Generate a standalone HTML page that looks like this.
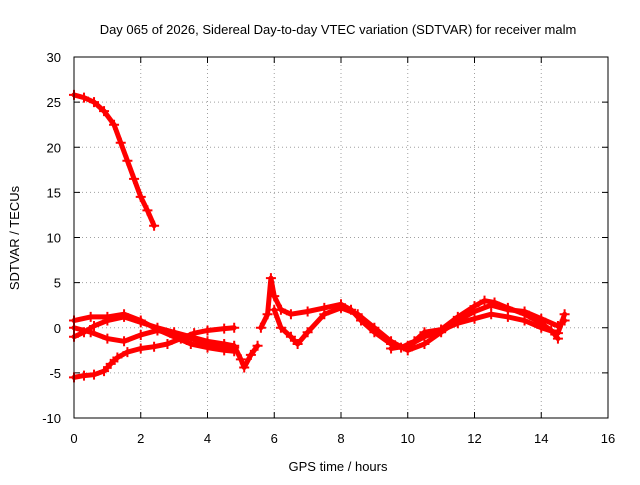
<!DOCTYPE html>
<html><head><meta charset="utf-8"><style>
body{margin:0;background:#fff}
svg text{font-family:"Liberation Sans",sans-serif;font-size:13px;fill:#000}
</style></head><body>
<svg id="chart" width="640" height="480" xmlns="http://www.w3.org/2000/svg">
<rect width="640" height="480" fill="#fff"/>
<text x="338" y="34" text-anchor="middle">Day 065 of 2026, Sidereal Day-to-day VTEC variation (SDTVAR) for receiver malm</text>
<text x="338" y="471" text-anchor="middle">GPS time / hours</text>
<text transform="translate(19,238) rotate(-90)" text-anchor="middle">SDTVAR / TECUs</text>
<g id="grid"></g><g id="ticks"></g><g id="series"></g>
<rect x="74" y="57" width="534" height="361" fill="none" stroke="#000" stroke-width="1"/>
</svg>
<script>
const xTicks=[0,2,4,6,8,10,12,14,16];
const yTicks=[-10,-5,0,5,10,15,20,25,30];
const track1=[[0,25.8],[0.3,25.5],[0.6,25],[0.9,24],[1.2,22.5],[1.4,20.5],[1.6,18.5],[1.8,16.5],[2.0,14.5],[2.2,13],[2.4,11.3]];
const track2=[[0,-5.5],[0.3,-5.3],[0.6,-5.2],[0.9,-4.8],[1.1,-4],[1.3,-3.3],[1.6,-2.7],[2,-2.3],[2.4,-2.1],[2.8,-1.8],[3.2,-1.2],[3.6,-0.6],[4,-0.3],[4.5,-0.1],[4.8,0]];
const track3=[[0,-1],[0.3,-0.5],[0.6,0.2],[1,0.8],[1.5,1.2],[2,0.6],[2.5,0],[3,-0.5],[3.5,-1],[4,-1.5],[4.5,-1.8],[4.8,-2],[5,-3.5],[5.1,-4.4],[5.3,-3],[5.5,-2]];
const track4=[[0,0.8],[0.5,1.2],[1,1.2],[1.5,1.5],[2,0.8],[2.5,-0.2],[3,-1],[3.5,-1.8],[4,-2.2],[4.5,-2.5],[4.8,-2.6]];
const track5=[[0,0],[0.5,-0.5],[1,-1.2],[1.5,-1.5],[2,-0.8],[2.5,-0.3],[3,-0.7],[3.5,-1.2],[4,-1.8],[4.5,-2],[4.8,-2.2]];
const track6=[[5.6,0],[5.8,1.5],[5.9,5.5],[6,3.5],[6.2,2],[6.5,1.5],[7,1.8],[7.5,2.2],[8,2.6],[8.3,2],[8.6,0.8],[9,-0.5],[9.5,-1.8],[9.8,-2.2],[10.2,-1.5],[10.5,-0.5],[11,-0.2],[11.5,1.2],[12,2.4],[12.3,3],[12.6,2.8],[13,2.2],[13.5,1.5],[14,0.5],[14.3,-0.3],[14.5,-1.2]];
const track7=[[6,2],[6.2,0],[6.5,-1],[6.7,-1.8],[7,-0.5],[7.5,1.5],[8,2.2],[8.5,1.5],[9,0],[9.5,-1.5],[10,-2.5],[10.5,-1.8],[11,-0.5],[11.5,0.8],[12,1.8],[12.5,2.5],[13,2],[13.5,1.8],[14,1],[14.5,0.2],[14.7,0.8]];
const track8=[[9.5,-2.3],[10,-2],[10.5,-1],[11,-0.3],[11.5,0.5],[12,1],[12.5,1.5],[13,1.2],[13.5,0.8],[14,0],[14.5,-0.6],[14.7,1.5]];
const tracks=[track1,track2,track3,track4,track5,track6,track7,track8];
const NS="http://www.w3.org/2000/svg";
const X0=74,X1=608,Y0=418,Y1=57;
function xs(v){return X0+(v-0)/(16-0)*(X1-X0);}
function ys(v){return Y0-(v+10)/(40)*(Y0-Y1);}
function mk(tag,attrs,parent){const e=document.createElementNS(NS,tag);for(const k in attrs)e.setAttribute(k,attrs[k]);parent.appendChild(e);return e;}
const grid=document.getElementById('grid'),ticks=document.getElementById('ticks'),series=document.getElementById('series');
xTicks.forEach(t=>{const x=xs(t);
 if(t>0&&t<16){const g=mk('line',{x1:x,x2:x,y1:Y1,y2:Y0,stroke:'#a0a0a0','stroke-dasharray':'1,3'},grid);
 
 }
 mk('line',{x1:x,x2:x,y1:Y0,y2:Y0-6,stroke:'#000'},ticks);
 mk('line',{x1:x,x2:x,y1:Y1,y2:Y1+6,stroke:'#000'},ticks);
 const l=mk('text',{x:x,y:443,'text-anchor':'middle'},ticks);l.textContent=t;
 
 
});
yTicks.forEach(t=>{const y=ys(t);
 if(t>-10&&t<30){const g=mk('line',{x1:X0,x2:X1,y1:y,y2:y,stroke:'#a0a0a0','stroke-dasharray':'1,3'},grid);
 
 }
 mk('line',{x1:X0,x2:X0+6,y1:y,y2:y,stroke:'#000'},ticks);
 mk('line',{x1:X1,x2:X1-6,y1:y,y2:y,stroke:'#000'},ticks);
 const l=mk('text',{x:61,y:y+5,'text-anchor':'end'},ticks);l.textContent=t;
 
 
});
tracks.forEach((tr,i)=>{
 const pl=mk('polyline',{points:tr.map(p=>xs(p[0])+','+ys(p[1])).join(' '),fill:'none',stroke:'#f00','stroke-width':5,'stroke-linejoin':'round','stroke-linecap':'round'},series);
 
 
 tr.forEach(p=>{const x=xs(p[0]),y=ys(p[1]);
  const m=mk('path',{d:`M${x-5},${y}H${x+5}M${x},${y-5}V${y+5}`,stroke:'#f00','stroke-width':2},series);
  
  
 });
});
</script>
</body></html>
